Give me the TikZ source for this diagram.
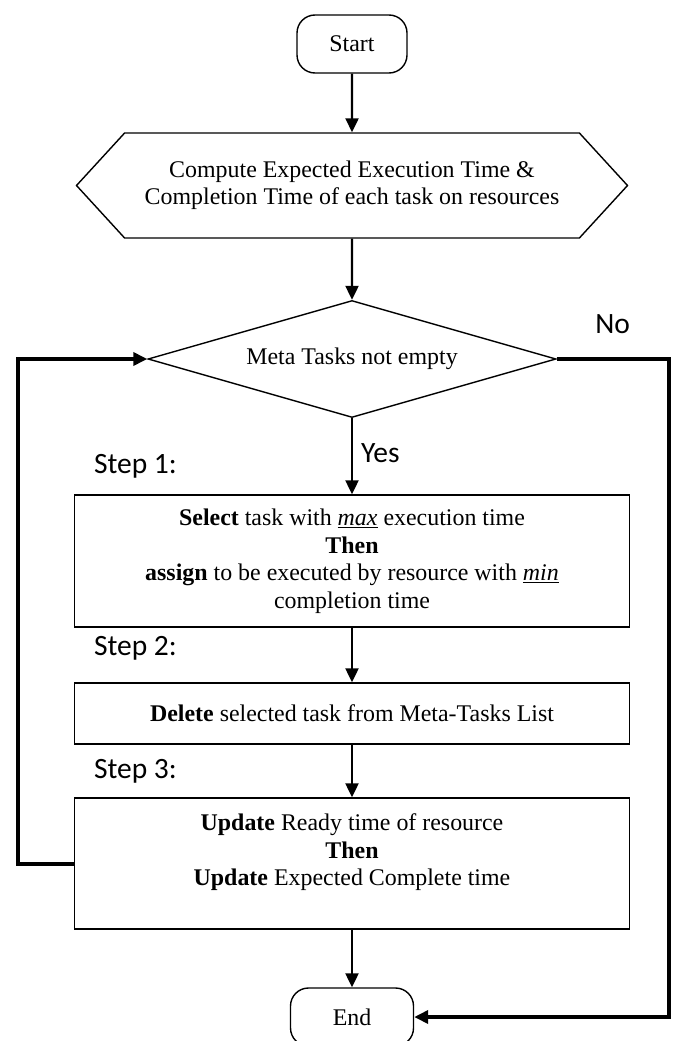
\documentclass[tikz,border=0pt]{standalone}
\usepackage{fontspec}
\setmainfont{Liberation Serif}
\newfontfamily\stepfont{Carlito}
\usetikzlibrary{arrows.meta,shapes.geometric,shapes.symbols}

\begin{document}
\begin{tikzpicture}[x=1pt,y=-1pt,>={Triangle[length=14pt,width=13pt]},
    font=\fontsize{23.9}{27.5}\selectfont,
    terminal/.style={draw,line width=1.4pt,rounded corners=18pt,minimum height=58pt},
    hexa/.style={draw,line width=1.4pt,shape=signal,signal to=west and east,signal pointer angle=95,
      minimum width=551pt,minimum height=105pt,align=center},
    decision/.style={draw,line width=1.4pt,diamond,aspect=3.49,minimum width=408pt,minimum height=117pt,inner sep=0pt},
    process/.style={draw,line width=1.4pt,rectangle,minimum width=555pt,align=center},
    flow/.style={->,line width=2.2pt},
    back/.style={->,line width=4pt},
    side/.style={font=\stepfont\fontsize{29.5}{33}\selectfont,inner sep=0pt}]
  \useasboundingbox (0,0) rectangle (672,1041);

  \node[terminal,minimum width=110pt] (start) at (352,44) {Start};
  \node[hexa] (compute) [node distance=141.5pt,below of=start]
    {Compute Expected Execution Time \&\\Completion Time of each task on resources};
  \node[decision] (meta) [node distance=173.5pt,below of=compute] {Meta Tasks not empty};
  \node[process,minimum height=132pt] (select) [node distance=202pt,below of=meta]
    {\textbf{Select} task with \underline{\textit{max}} execution time\\
     \textbf{Then}\\
     \textbf{assign} to be executed by resource with \underline{\textit{min}}\\
     completion time};
  \node[process,minimum height=61pt] (delete) [node distance=152.5pt,below of=select]
    {\textbf{Delete} selected task from Meta-Tasks List};
  \node[process,minimum height=131pt] (update) [node distance=150pt,below of=delete]
    {\textbf{Update} Ready time of resource\\
     \textbf{Then}\\
     \textbf{Update} Expected Complete time\\ \mbox{}};
  \node[terminal,minimum width=123pt] (end) [node distance=153.5pt,below of=update] {End};

  \node[side,anchor=base west] (step1) at ([xshift=20pt,yshift=20.5pt]select.north west) {Step 1:};
  \node[side,anchor=base west] (step2) at ([xshift=20pt,yshift=26.5pt]delete.north west) {Step 2:};
  \node[side,anchor=base west] (step3) at ([xshift=20pt,yshift=18.5pt]update.north west) {Step 3:};

  \path[flow]
  (start) edge (compute)
  (compute) edge (meta)
  (meta) edge node[side,right,pos=0.46,xshift=8pt] {Yes} (select)
  (select) edge (delete)
  (delete) edge (update)
  (update) edge (end)
  ;

  \draw[back] (update.west) -- ++(-56,0) |- (meta.west);
  \draw[back] (meta.east) -- node[side,above=23pt] {No} ++(112,0) |- (end.east);
\end{tikzpicture}
\end{document}
